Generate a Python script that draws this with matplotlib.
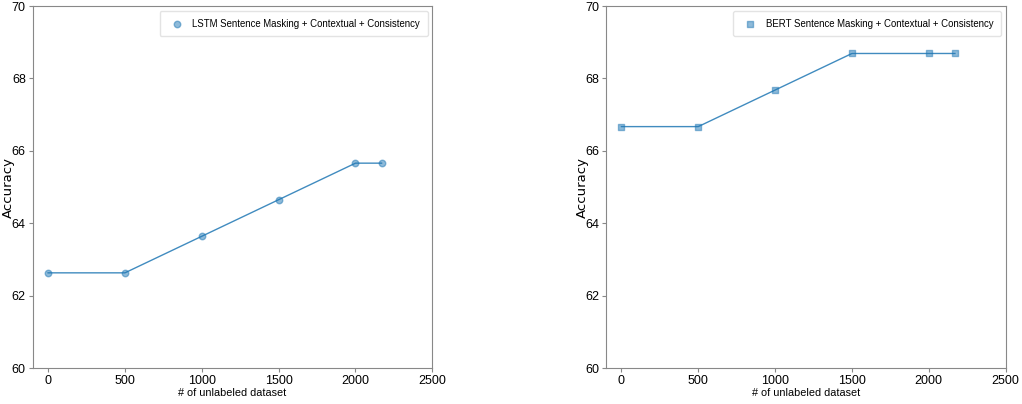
from matplotlib import pyplot as plt

# unlabeled dataset size vs accuracy
sizes = [0, 500, 1000, 1500, 2000, 2170]
lstm_acc = [62.63, 62.63, 63.64, 64.65, 65.66, 65.66]
bert_acc = [66.67, 66.67, 67.68, 68.69, 68.69, 68.69]

lstm_label = "LSTM Sentence Masking + Contextual + Consistency"
bert_label = "BERT Sentence Masking + Contextual + Consistency"

plt.rcParams["font.family"] = ["Liberation Sans", "DejaVu Sans"]
plt.rcParams["font.size"] = 9

fig = plt.figure(figsize=(10.22, 4.04), dpi=100)
ax1 = fig.add_axes([0.032, 0.089, 0.391, 0.896])
ax2 = fig.add_axes([0.593, 0.089, 0.391, 0.896])


def draw(ax, acc, label, marker):
    ax.plot(sizes, acc, "-", color="#1f77b4", lw=1, alpha=0.85)
    ax.scatter(sizes, acc, marker=marker, s=22, color="#1f77b4", alpha=0.5,
               label=label, zorder=3)
    ax.set_xlim(-100, 2500)
    ax.set_ylim(60, 70)
    ax.set_xticks([0, 500, 1000, 1500, 2000, 2500])
    ax.set_yticks([60, 62, 64, 66, 68, 70])
    ax.set_xlabel("# of unlabeled dataset", fontsize=7.8, labelpad=1)
    ax.set_ylabel("Accuracy", family="DejaVu Sans", fontsize=9.5)
    ax.yaxis.set_label_coords(-0.044, 0.5)
    for s in ax.spines.values():
        s.set_color("#888888")
    ax.tick_params(colors="#888888", labelcolor="black", length=3, pad=2)
    ax.legend(loc="upper right", fontsize=6.9, handletextpad=0.6,
              borderpad=0.8, edgecolor="#dddddd")


draw(ax1, lstm_acc, lstm_label, "o")
draw(ax2, bert_acc, bert_label, "s")

plt.savefig("out.png", dpi=100)
